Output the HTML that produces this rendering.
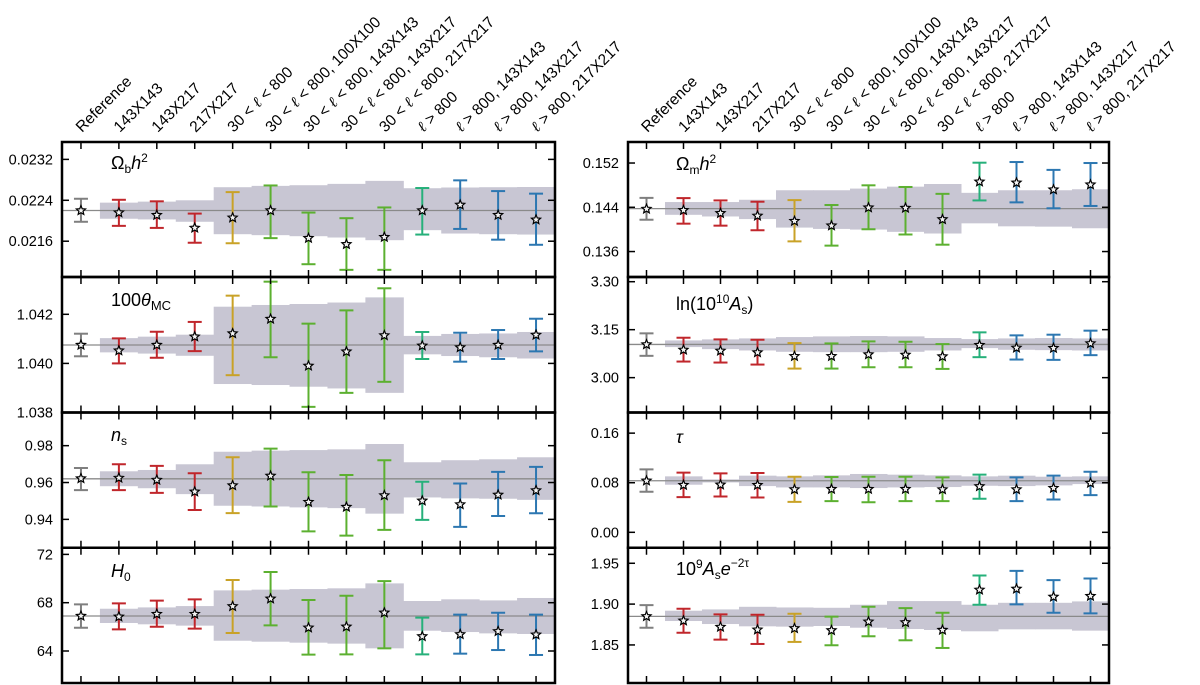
<!DOCTYPE html>
<html><head><meta charset="utf-8"><style>
html,body{margin:0;padding:0;background:#fff;}
svg{display:block;font-family:"Liberation Sans","DejaVu Sans",sans-serif;}
</style></head><body>
<svg id="chart" width="1200" height="685" viewBox="0 0 1200 685" xmlns="http://www.w3.org/2000/svg"></svg>
<script>
const categories=["Reference","143X143","143X217","217X217","30 < ℓ < 800","30 < ℓ < 800, 100X100","30 < ℓ < 800, 143X143","30 < ℓ < 800, 143X217","30 < ℓ < 800, 217X217","ℓ > 800","ℓ > 800, 143X143","ℓ > 800, 143X217","ℓ > 800, 217X217"];
const seriesColors=["#7f7f7f","#c0262b","#c0262b","#c0262b","#c9a227","#5cb030","#5cb030","#5cb030","#5cb030","#26b07a","#2c77b1","#2c77b1","#2c77b1"];

// Omega_b h^2
const obhRef=0.02220;
const obhCenter=[0.02220,0.02216,0.02211,0.02186,0.02206,0.02220,0.02166,0.02154,0.02168,0.02220,0.02231,0.02211,0.02202];
const obhHi=[0.02243,0.02241,0.02238,0.02214,0.02256,0.02269,0.02216,0.02205,0.02226,0.02264,0.02279,0.02258,0.02253];
const obhLo=[0.02198,0.02190,0.02186,0.02157,0.02156,0.02166,0.02115,0.02104,0.02104,0.02173,0.02184,0.02163,0.02153];
const obhBandHi=[null,0.022354,0.022374,0.0224,0.022656,0.022682,0.022695,0.022721,0.02278,0.022636,0.02265,0.022656,0.02266];
const obhBandLo=[null,0.022039,0.022026,0.02198,0.021737,0.021718,0.021698,0.021672,0.02162,0.021816,0.02175,0.021737,0.02173];
const obhTicks=["0.0216","0.0224","0.0232"];

// 100 theta_MC
const thRef=1.04075;
const thCenter=[1.04075,1.04052,1.04075,1.04109,1.04122,1.04181,1.0399,1.04048,1.04114,1.04072,1.04065,1.04075,1.04116];
const thHi=[1.04121,1.04102,1.04129,1.04169,1.04276,1.04333,1.04162,1.04216,1.04306,1.04128,1.04125,1.04136,1.04182];
const thLo=[1.04029,1.0400,1.04023,1.0405,1.03952,1.04025,1.03823,1.0388,1.03925,1.04018,1.04007,1.04018,1.04049];
const thBandHi=[null,1.04103,1.04109,1.04117,1.04231,1.04238,1.04242,1.04248,1.04269,1.04112,1.0412,1.04122,1.04128];
const thBandLo=[null,1.04045,1.0404,1.04031,1.03916,1.03912,1.03905,1.03898,1.0388,1.04037,1.0403,1.04025,1.0402];
const thTicks=["1.038","1.040","1.042"];

// n_s
const nsRef=0.962;
const nsCenter=[0.9622,0.9625,0.9614,0.955,0.9584,0.9636,0.9494,0.9467,0.953,0.9501,0.9481,0.9533,0.9557];
const nsHi=[0.9679,0.9699,0.969,0.965,0.9737,0.9784,0.9656,0.9641,0.9721,0.9604,0.9595,0.9658,0.9685];
const nsLo=[0.9559,0.9559,0.9544,0.9451,0.9434,0.947,0.9335,0.9312,0.9343,0.9397,0.9359,0.9418,0.9433];
const nsBandHi=[null,0.9661,0.9668,0.9699,0.9767,0.9773,0.9776,0.978,0.9809,0.971,0.9721,0.9726,0.9737];
const nsBandLo=[null,0.958,0.9569,0.9537,0.9474,0.947,0.9465,0.9461,0.9431,0.9519,0.9514,0.9512,0.9506];
const nsTicks=["0.94","0.96","0.98"];

// H0
const h0Ref=66.9;
const h0Center=[66.9,66.84,67.06,67.06,67.7,68.33,65.93,66.01,67.17,65.21,65.38,65.63,65.35];
const h0Hi=[67.86,67.94,68.17,68.28,69.88,70.54,68.22,68.58,69.79,66.76,67.01,67.17,67.01];
const h0Lo=[65.93,65.79,66.01,65.85,65.49,66.12,63.7,63.72,64.22,63.72,63.78,64.08,63.67];
const h0BandHi=[null,67.5,67.61,67.72,69.02,69.08,69.13,69.19,69.6,68.14,68.28,68.19,68.39];
const h0BandLo=[null,66.32,66.21,66.1,64.85,64.77,64.69,64.61,64.22,65.68,65.57,65.46,65.41];
const h0Ticks=["64","68","72"];

// Omega_m h^2
const omhRef=0.14376;
const omhCenter=[0.1437,0.14347,0.14293,0.14246,0.14151,0.14068,0.14394,0.14388,0.14181,0.14862,0.14844,0.1472,0.14809];
const omhHi=[0.1457,0.14566,0.14524,0.14501,0.1453,0.14441,0.14797,0.14767,0.14643,0.15206,0.15218,0.15076,0.152];
const omhLo=[0.14175,0.14104,0.14068,0.13985,0.13784,0.13707,0.14003,0.13908,0.13724,0.14524,0.14489,0.14382,0.14424];
const omhBandHi=[null,0.14495,0.14495,0.14536,0.14708,0.14708,0.14738,0.14773,0.14821,0.14661,0.14708,0.14708,0.14726];
const omhBandLo=[null,0.14264,0.14234,0.14187,0.14033,0.14009,0.13997,0.13956,0.13926,0.1411,0.14056,0.1405,0.14021];
const omhTicks=["0.136","0.144","0.152"];

// ln(10^10 A_s)
const lnaRef=3.1038;
const lnaCenter=[3.1038,3.087,3.0839,3.0787,3.0671,3.0671,3.0724,3.0713,3.0661,3.1017,3.0933,3.0923,3.107];
const lnaHi=[3.1385,3.1248,3.1196,3.1185,3.108,3.107,3.1133,3.1122,3.1049,3.1416,3.1322,3.1343,3.1469];
const lnaLo=[3.0682,3.0503,3.0472,3.0409,3.0283,3.0283,3.0325,3.0325,3.0273,3.064,3.0566,3.0556,3.0703];
const lnaBandHi=[null,3.1164,3.1196,3.1227,3.1269,3.129,3.1301,3.129,3.1238,3.1206,3.1227,3.1238,3.1227];
const lnaBandLo=[null,3.0955,3.0892,3.085,3.0808,3.0797,3.0797,3.0808,3.085,3.0923,3.0871,3.086,3.085];
const lnaTicks=["3.00","3.15","3.30"];

// tau
const tauRef=0.0832;
const tauCenter=[0.0832,0.0762,0.0768,0.0762,0.0692,0.0697,0.0697,0.0697,0.0692,0.0741,0.0692,0.0714,0.0795];
const tauHi=[0.1016,0.0962,0.0951,0.0957,0.0897,0.0892,0.0897,0.0897,0.0886,0.093,0.0886,0.0914,0.0978];
const tauLo=[0.0654,0.0568,0.0578,0.0562,0.0492,0.0503,0.0486,0.0503,0.0503,0.0541,0.0503,0.053,0.06];
const tauBandHi=[null,0.0903,0.0854,0.0914,0.0903,0.0919,0.0941,0.093,0.0919,0.0903,0.0914,0.0897,0.0903];
const tauBandLo=[null,0.0768,0.0805,0.0746,0.0724,0.0724,0.0714,0.0724,0.073,0.0751,0.0746,0.0757,0.0778];
const tauTicks=["0.00","0.08","0.16"];

// 10^9 A_s e^{-2tau}
const aseRef=1.885;
const aseCenter=[1.885,1.8797,1.872,1.8687,1.8703,1.8679,1.8785,1.8776,1.8683,1.9175,1.9187,1.9089,1.9098];
const aseHi=[1.8988,1.8943,1.8874,1.887,1.8882,1.8846,1.8967,1.8951,1.8894,1.935,1.9407,1.9293,1.9313];
const aseLo=[1.8711,1.865,1.8565,1.8512,1.8537,1.8496,1.8606,1.8557,1.8463,1.8992,1.8996,1.8894,1.8886];
const aseBandHi=[null,1.8919,1.8935,1.8967,1.8959,1.8955,1.8992,1.9037,1.9037,1.8992,1.9016,1.9016,1.9033];
const aseBandLo=[null,1.8793,1.8756,1.8728,1.8724,1.8732,1.8711,1.8695,1.8683,1.8667,1.8691,1.8691,1.8675];
const aseTicks=["1.85","1.90","1.95"];

const NS="http://www.w3.org/2000/svg";
const svg=document.getElementById("chart");
function mk(tag,attrs,parent){const e=document.createElementNS(NS,tag);for(const k in attrs)e.setAttribute(k,attrs[k]);(parent||svg).appendChild(e);return e;}

const cols=[{x0:62,x1:555,labelX:53,title:111},{x0:628,x1:1109,labelX:619,title:676}];
const rowTops=[142,277,412.5,547.75,683];

const panels=[
 {name:"omega-b-h2",col:0,row:0,dom:[0.0209,0.02354],ref:obhRef,c:obhCenter,hi:obhHi,lo:obhLo,bh:obhBandHi,bl:obhBandLo,ticks:obhTicks,title:'Ω<tspan font-size="12" dy="4">b</tspan><tspan dy="-4" font-style="italic">h</tspan><tspan font-size="12" dy="-7">2</tspan>',ty:169},
 {name:"theta-mc",col:0,row:1,dom:[1.038,1.04352],ref:thRef,c:thCenter,hi:thHi,lo:thLo,bh:thBandHi,bl:thBandLo,ticks:thTicks,title:'100<tspan font-style="italic">θ</tspan><tspan font-size="13" dy="4">MC</tspan>',ty:306},
 {name:"n-s",col:0,row:2,dom:[0.9246,0.998],ref:nsRef,c:nsCenter,hi:nsHi,lo:nsLo,bh:nsBandHi,bl:nsBandLo,ticks:nsTicks,title:'<tspan font-style="italic">n</tspan><tspan font-size="12" dy="4">s</tspan>',ty:441},
 {name:"h0",col:0,row:3,dom:[61.35,72.55],ref:h0Ref,c:h0Center,hi:h0Hi,lo:h0Lo,bh:h0BandHi,bl:h0BandLo,ticks:h0Ticks,title:'<tspan font-style="italic">H</tspan><tspan font-size="12" dy="4">0</tspan>',ty:577},
 {name:"omega-m-h2",col:1,row:0,dom:[0.1314,0.1558],ref:omhRef,c:omhCenter,hi:omhHi,lo:omhLo,bh:omhBandHi,bl:omhBandLo,ticks:omhTicks,title:'Ω<tspan font-size="12" dy="4">m</tspan><tspan dy="-4" font-style="italic">h</tspan><tspan font-size="12" dy="-7">2</tspan>',ty:170},
 {name:"ln-as",col:1,row:1,dom:[2.891,3.3147],ref:lnaRef,c:lnaCenter,hi:lnaHi,lo:lnaLo,bh:lnaBandHi,bl:lnaBandLo,ticks:lnaTicks,title:'ln(10<tspan font-size="12" dy="-7">10</tspan><tspan dy="7" font-style="italic">A</tspan><tspan font-size="12" dy="4">s</tspan><tspan dy="-4">)</tspan>',ty:310},
 {name:"tau",col:1,row:2,dom:[-0.0249,0.1933],ref:tauRef,c:tauCenter,hi:tauHi,lo:tauLo,bh:tauBandHi,bl:tauBandLo,ticks:tauTicks,title:'<tspan font-style="italic">τ</tspan>',ty:443},
 {name:"as-e-2tau",col:1,row:3,dom:[1.8034,1.969],ref:aseRef,c:aseCenter,hi:aseHi,lo:aseLo,bh:aseBandHi,bl:aseBandLo,ticks:aseTicks,title:'10<tspan font-size="12" dy="-7">9</tspan><tspan dy="7" font-style="italic">A</tspan><tspan font-size="12" dy="4">s</tspan><tspan dy="-4" font-style="italic">e</tspan><tspan font-size="12" dy="-8">−2τ</tspan>',ty:575}
];

function starPath(cx,cy,r){let d="";for(let k=0;k<10;k++){const a=-Math.PI/2+k*Math.PI/5;const rr=k%2?r*0.45:r;d+=(k?"L":"M")+(cx+rr*Math.cos(a)).toFixed(2)+" "+(cy+rr*Math.sin(a)).toFixed(2);}return d+"Z";}

// column labels
cols.forEach((c,ci)=>{
 const sp=(c.x1-c.x0)/13;
 categories.forEach((lab,i)=>{
  const x=c.x0+sp*(i+0.5)+1;
  const t=mk("text",{x:x,y:133,"font-size":"15.5",fill:"#000",transform:`rotate(-45 ${x} 133)`});
  
  
  const parts=lab.split("ℓ");
  parts.forEach((p,pi)=>{
   if(pi>0){const ts=mk("tspan",{"font-style":"italic","font-family":"DejaVu Serif, serif"},t);ts.textContent="ℓ";}
   if(p){const ts=mk("tspan",{},t);ts.textContent=p;}
  });
 });
});

panels.forEach(p=>{
 const c=cols[p.col];
 const y0=rowTops[p.row], y1=rowTops[p.row+1];
 const sp=(c.x1-c.x0)/13;
 const X=i=>c.x0+sp*(i+0.5);
 const Y=v=>y1-(v-p.dom[0])/(p.dom[1]-p.dom[0])*(y1-y0);
 const g=mk("g",{});
 
 
 const cid="clip-"+p.name;
 const cp=mk("clipPath",{id:cid},g);mk("rect",{x:c.x0,y:y0,width:c.x1-c.x0,height:y1-y0},cp);
 const inner=mk("g",{"clip-path":`url(#${cid})`},g);
 p.bh.forEach((hv,i)=>{
  if(hv===null)return;
  const r=mk("rect",{x:X(i)-sp/2,y:Y(hv),width:sp+0.5,height:Y(p.bl[i])-Y(hv),fill:"#c8c6d3"},inner);
  
  
 });
 const rl=mk("line",{x1:c.x0,x2:c.x1,y1:Y(p.ref),y2:Y(p.ref),stroke:"#8a8a8a","stroke-width":1.3},inner);
 
 
 p.c.forEach((v,i)=>{
  const col=seriesColors[i];const x=X(i);
  const eg=mk("g",{stroke:col,"stroke-width":2},inner);
  
  
  mk("line",{x1:x,x2:x,y1:Y(p.hi[i]),y2:Y(p.lo[i])},eg);
  mk("line",{x1:x-7,x2:x+7,y1:Y(p.hi[i]),y2:Y(p.hi[i])},eg);
  mk("line",{x1:x-7,x2:x+7,y1:Y(p.lo[i]),y2:Y(p.lo[i])},eg);
  const s=mk("path",{d:starPath(x,Y(v),4.8),fill:"#f4f4f4",stroke:"#000","stroke-width":1.2},inner);
  
  
 });
 for(let i=0;i<13;i++){
  mk("line",{x1:X(i),x2:X(i),y1:y0,y2:y0+7,stroke:"#000","stroke-width":1.5},g);
  mk("line",{x1:X(i),x2:X(i),y1:y1,y2:y1-7,stroke:"#000","stroke-width":1.5},g);
 }
 p.ticks.forEach(t=>{
  const y=Y(parseFloat(t));
  mk("line",{x1:c.x0,x2:c.x0+7,y1:y,y2:y,stroke:"#000","stroke-width":1.5},g);
  mk("line",{x1:c.x1,x2:c.x1-7,y1:y,y2:y,stroke:"#000","stroke-width":1.5},g);
  const tl=mk("text",{x:c.labelX,y:y+5,"text-anchor":"end","font-size":"14.5",fill:"#000"},g);
  
  
  tl.textContent=t;
 });
 const fr=mk("rect",{x:c.x0,y:y0,width:c.x1-c.x0,height:y1-y0,fill:"none",stroke:"#000","stroke-width":2.5},g);
 
 
 const tt=mk("text",{x:c.title,y:p.ty,"font-size":"18",fill:"#000"},g);
 
 
 tt.innerHTML=p.title;
});
</script>
</body></html>
